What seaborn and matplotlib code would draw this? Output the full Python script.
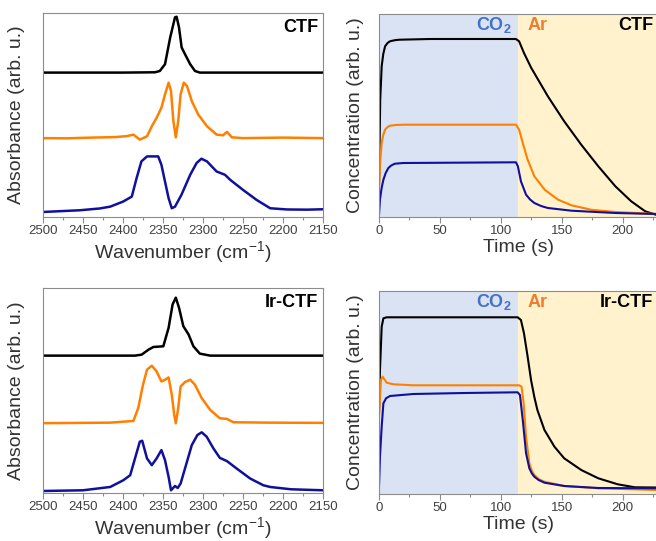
import pandas as pd
import seaborn as sns
import matplotlib.pyplot as plt
from matplotlib.ticker import MultipleLocator

# IR spectra (wavenumber in cm-1, stacked absorbance in arb. u.) - CTF
ctf_black_wn = [2500, 2400, 2360, 2354, 2347.5, 2341, 2335, 2333, 2330, 2326.7, 2322.5, 2316, 2310, 2304, 2290, 2150]
ctf_black = [143.7, 143.7, 144, 145.3, 152, 178.7, 198.7, 199.3, 188.7, 168.7, 162, 152, 145.3, 143.7, 143.7, 143.7]

ctf_orange_wn = [2500, 2470, 2440, 2410, 2395, 2387, 2379, 2370, 2364, 2358, 2352, 2347.5, 2343, 2340, 2337, 2334,
                 2331, 2328, 2324, 2320, 2314, 2306, 2295, 2283, 2275, 2270, 2264, 2250, 2200, 2150]
ctf_orange = [78.5, 78.3, 79, 79.5, 80.5, 82, 77, 80.3, 90.3, 98.7, 108.7, 122, 133.7, 125.3, 95.3, 79.3,
              95.3, 122, 133.7, 130.3, 115.3, 102, 90.3, 82, 81.3, 84.7, 79.3, 78.5, 79, 78.5]

ctf_blue_wn = [2500, 2454, 2429, 2416, 2400, 2389, 2383, 2377, 2370, 2356, 2352, 2347.5, 2343, 2339, 2335, 2327,
               2316, 2308, 2302, 2295, 2283, 2272.5, 2266, 2250, 2233, 2216, 2195, 2170, 2150]
ctf_blue = [5, 6.7, 8.5, 10.3, 15.3, 20.3, 38.7, 55.3, 60.3, 60.3, 52, 35.3, 18.7, 8.7, 10.3, 22,
            42, 53.7, 58, 55.3, 45.3, 42, 37, 27, 17, 8.7, 7.5, 7.3, 7.7]

# IR spectra - Ir-CTF
ir_black_wn = [2500, 2385, 2376.6, 2368, 2362, 2349.6, 2343, 2338, 2334, 2330, 2324.6, 2318, 2312, 2304, 2291, 2150]
ir_black = [136.7, 136.7, 137.7, 142.7, 145.3, 146, 164.4, 187.7, 194.4, 184.4, 166, 157.7, 146, 138.7, 136.7, 136.7]

ir_orange_wn = [2500, 2450, 2416, 2387, 2381, 2375, 2370, 2364, 2358, 2352, 2347.5, 2343, 2339, 2336, 2334, 2331,
                2328, 2322.5, 2316, 2310, 2301.6, 2291, 2279, 2270, 2262, 2216, 2150]
ir_orange = [69.5, 69.8, 70, 71.7, 84.4, 107.7, 122.7, 126.7, 121, 111, 112.7, 115, 97.7, 77.7, 69.4, 84.4,
             106, 110.4, 112.7, 107.7, 94.4, 82.7, 74.4, 73.7, 70.4, 70, 69.8]

ir_blue_wn = [2500, 2450, 2416, 2399.6, 2391, 2385, 2379, 2376, 2370, 2364, 2358, 2352, 2347.5, 2343, 2340, 2335,
              2331.6, 2328, 2322.5, 2314, 2307, 2301.6, 2295.4, 2287, 2279, 2270, 2258, 2241, 2224.6, 2216, 2190, 2150]
ir_blue = [2, 2.7, 6, 12.7, 17.7, 34.4, 51, 52, 34.4, 27.7, 34.4, 42.7, 32.7, 16, 2.7, 7,
           5, 9.4, 24.4, 47.7, 57.7, 60.4, 56, 44.4, 35, 31.7, 24.4, 14.4, 7.7, 6, 3.7, 2.7]

# Concentration transients (time in s) - CTF
ctf_t_black = [0, 1, 2.2, 3.5, 5, 7, 9, 13, 17, 42, 112.4, 115, 119, 125, 138.6, 152, 166, 180, 194, 207, 218.5, 228]
ctf_c_black = [30.7, 117.3, 150.7, 163, 170.7, 174, 175.7, 176.8, 177.3, 178, 178, 175.7, 164, 149, 120.7, 95.7,
               72.3, 50.7, 30.7, 15.7, 5.7, 2]
ctf_t_orange = [0, 1, 2.2, 3.5, 5, 7, 9, 14, 20, 112.4, 115, 118, 122, 127.5, 136, 147, 158, 174, 194, 228]
ctf_c_orange = [29, 55, 74, 82, 87.3, 90, 91.3, 92, 92.3, 92.3, 87.3, 74, 57.3, 40.7, 27.3, 17.3, 11.7, 7.3, 5, 3]
ctf_t_blue = [0, 0.8, 2, 3.6, 5.5, 7.7, 10, 13, 20, 112.4, 114, 116.5, 120.7, 124, 127.5, 133, 138.6, 158, 194, 228]
ctf_c_blue = [2.3, 17.3, 28, 37.3, 44, 49, 51.5, 53.3, 54, 54.7, 50.7, 35.7, 22.3, 17.5, 14, 11, 9, 6.3, 4, 3]

# Concentration transients - Ir-CTF
ir_t_black = [0, 0.8, 2.2, 3.6, 6.3, 113.8, 116.5, 119, 122, 124.8, 127.5, 130, 135.8, 144, 152, 166, 180, 196, 210, 228]
ir_c_black = [80.7, 124, 167.3, 175.7, 176.7, 176.7, 174, 160.7, 137.3, 114, 97, 84, 64, 47.3, 35.7, 24, 15.7, 9.7,
              6.7, 6.5]
ir_t_orange = [0, 1.6, 3, 6.3, 11.8, 28, 115, 117, 118.7, 120.7, 123.4, 125.5, 127.5, 131, 135.8, 152, 180, 228]
ir_c_orange = [77.3, 114, 117.3, 111.3, 109.7, 108.7, 108.7, 107.3, 90.7, 57.3, 30.7, 23, 19, 15, 12.3, 8, 5.7, 4]
ir_t_blue = [0, 0.8, 2.2, 3.6, 5.8, 9, 28, 70, 113.8, 115.7, 118, 120.7, 123.4, 125.5, 127.5, 131, 135.8, 152, 180, 228]
ir_c_blue = [6.7, 37.3, 67.3, 90.7, 95.7, 98, 100, 101, 101.7, 99, 74, 40.7, 25.7, 20.5, 17.3, 14, 11.3, 8, 6, 5.7]

switch_time = 114  # CO2 -> Ar

BLACK, ORANGE, BLUE = '#000000', '#ff8000', '#10109c'
GRAY = '#8c8c8c'
TXT = '#333333'

sns.set_style('ticks')
plt.rcParams['font.family'] = ['Liberation Sans', 'DejaVu Sans']
plt.rcParams['mathtext.fontset'] = 'custom'
plt.rcParams['mathtext.rm'] = 'Liberation Sans'
plt.rcParams['mathtext.bf'] = 'Liberation Sans:bold'

fig = plt.figure(figsize=(6.56, 5.41), dpi=100)
W, H = 656, 541


def px_axes(x0, y0, x1, y1):
    return fig.add_axes([x0 / W, 1 - y1 / H, (x1 - x0) / W, (y1 - y0) / H])


def style(ax, major, minor):
    for s in ax.spines.values():
        s.set_color(GRAY)
        s.set_linewidth(0.8)
    ax.xaxis.set_major_locator(MultipleLocator(major))
    ax.xaxis.set_minor_locator(MultipleLocator(minor))
    ax.tick_params(axis='x', which='major', direction='out', length=4, width=0.8,
                   color=GRAY, labelcolor='#404040', labelsize=9.5, pad=2)
    ax.tick_params(axis='x', which='minor', direction='out', length=2.5, width=0.8, color=GRAY)
    ax.tick_params(axis='y', left=False, labelleft=False)


def spectrum(ax, series, label, ylim):
    for wn, ab, c in series:
        df = pd.DataFrame({'wn': wn, 'abs': ab})
        sns.lineplot(data=df, x='wn', y='abs', ax=ax, color=c, lw=1.8, sort=False)
    ax.set_xlim(2500, 2150)
    ax.set_ylim(*ylim)
    style(ax, 50, 25)
    ax.set_xlabel('Wavenumber (cm$^{-1}$)', fontsize=14, color=TXT)
    ax.set_ylabel('Absorbance (arb. u.)', fontsize=14, color=TXT)
    ax.xaxis.set_label_coords(0.5, -0.11)
    ax.yaxis.set_label_coords(-0.066, 0.5)
    ax.text(0.982, 0.93, label, transform=ax.transAxes, ha='right', va='center',
            fontsize=13, fontweight='bold', color='black')


def transient(ax, series, label, ylim):
    ax.axvspan(0, switch_time, color='#dae3f3', lw=0, zorder=0)
    ax.axvspan(switch_time, 300, color='#fff2cc', lw=0, zorder=0)
    for t, c_, col in series:
        df = pd.DataFrame({'t': t, 'c': c_})
        sns.lineplot(data=df, x='t', y='c', ax=ax, color=col, lw=1.5, sort=False)
    ax.set_xlim(0, 229)
    ax.set_ylim(*ylim)
    style(ax, 50, 25)
    ax.set_xlabel('Time (s)', fontsize=14, color=TXT)
    ax.set_ylabel('Concentration (arb. u.)', fontsize=14, color=TXT)
    ax.xaxis.set_label_coords(0.5, -0.11)
    ax.yaxis.set_label_coords(-0.054, 0.5)
    ax.text(switch_time - 5, ylim[1] * 0.945, r'$\mathbf{CO_2}$', ha='right', va='center',
            fontsize=13, color='#4472c4')
    ax.text(switch_time + 8, ylim[1] * 0.945, 'Ar', ha='left', va='center',
            fontsize=13, fontweight='bold', color='#ed7d31')
    ax.text(225, ylim[1] * 0.945, label, ha='right', va='center',
            fontsize=13, fontweight='bold', color='black')


ax1 = px_axes(43, 13, 323, 217)
spectrum(ax1, [(ctf_black_wn, ctf_black, BLACK), (ctf_orange_wn, ctf_orange, ORANGE),
               (ctf_blue_wn, ctf_blue, BLUE)], 'CTF', (0, 203))

ax2 = px_axes(379, 14, 658, 217)
transient(ax2, [(ctf_t_black, ctf_c_black, BLACK), (ctf_t_orange, ctf_c_orange, ORANGE),
                (ctf_t_blue, ctf_c_blue, BLUE)], 'CTF', (0, 203))

ax3 = px_axes(43, 288, 323, 493)
spectrum(ax3, [(ir_black_wn, ir_black, BLACK), (ir_orange_wn, ir_orange, ORANGE),
               (ir_blue_wn, ir_blue, BLUE)], 'Ir-CTF', (0, 204))

ax4 = px_axes(379, 291, 658, 494)
transient(ax4, [(ir_t_black, ir_c_black, BLACK), (ir_t_orange, ir_c_orange, ORANGE),
                (ir_t_blue, ir_c_blue, BLUE)], 'Ir-CTF', (0, 203))

fig.savefig('out.png', dpi=100)
